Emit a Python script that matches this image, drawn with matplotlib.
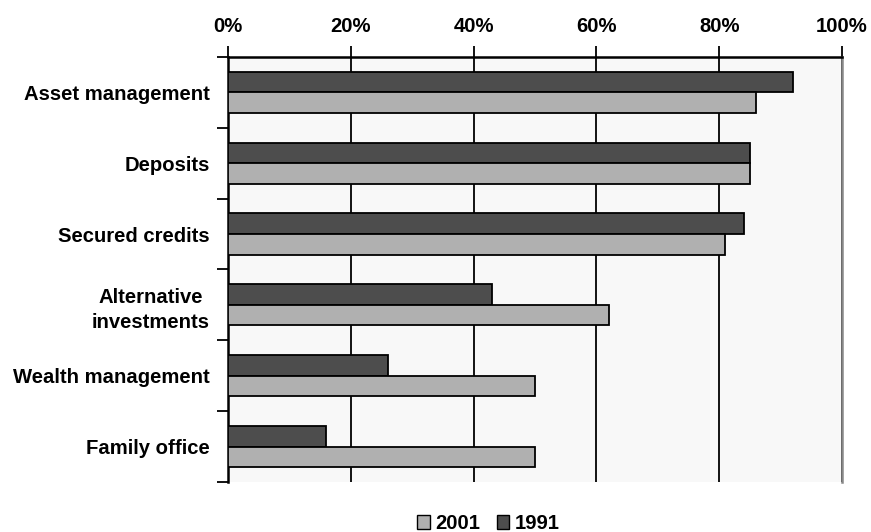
import matplotlib
matplotlib.use("Agg")
import matplotlib.pyplot as plt
import numpy as np
from matplotlib.patches import Patch

# data
categories = ["Asset management", "Deposits", "Secured credits",
              "Alternative\ninvestments", "Wealth management", "Family office"]
share_1991 = [92, 85, 84, 43, 26, 16]
share_2001 = [86, 85, 81, 62, 50, 50]
x_ticks = [0, 20, 40, 60, 80, 100]

plt.rcParams['font.family'] = ['Liberation Sans', 'DejaVu Sans']
plt.rcParams['font.weight'] = 'bold'
fs = 14.6

fig = plt.figure(figsize=(8.71, 5.32), dpi=100)
ax = fig.add_axes([0.2618, 0.094, 0.705, 0.799])

y = np.arange(len(categories))
h = 0.29
ax.barh(y - h / 2, share_1991, height=h, color='#4d4d4d', edgecolor='black', linewidth=1.3, zorder=3)
ax.barh(y + h / 2, share_2001, height=h, color='#b0b0b0', edgecolor='black', linewidth=1.3, zorder=3)

ax.set_xlim(0, 100)
ax.set_ylim(len(categories) - 0.5, -0.5)
ax.set_facecolor('#f8f8f8')

ax.xaxis.tick_top()
ax.set_xticks(x_ticks)
ax.set_xticklabels([f"{v}%" for v in x_ticks], fontsize=fs, fontweight='bold')
ax.tick_params(axis='x', direction='out', length=8, width=1.3, pad=7)
ax.grid(axis='x', color='black', linewidth=1.3, zorder=1)

ax.set_yticks(y)
ax.set_yticklabels(categories, fontsize=fs, fontweight='bold', ha='right')
ax.tick_params(axis='y', which='major', length=0, pad=13)
ax.set_yticks(np.arange(-0.5, len(categories), 1), minor=True)
ax.tick_params(axis='y', which='minor', direction='out', length=8, width=1.3)
for lbl in ax.get_yticklabels():
    lbl.set_multialignment('center')
    lbl.set_linespacing(1.4)

for side in ['top', 'left']:
    ax.spines[side].set_linewidth(1.8)
    ax.spines[side].set_color('black')
ax.spines['bottom'].set_visible(False)
ax.spines['right'].set_color('#888888')
ax.spines['right'].set_linewidth(1.8)

handles = [Patch(facecolor='#b0b0b0', edgecolor='black', label='2001'),
           Patch(facecolor='#4d4d4d', edgecolor='black', label='1991')]
fig.legend(handles=handles, loc='lower center', ncol=2, frameon=False,
           bbox_to_anchor=(0.561, -0.025), borderpad=0.1, handlelength=0.62,
           handleheight=0.62, handletextpad=0.28, columnspacing=0.8,
           prop={'weight': 'bold', 'size': fs})

fig.savefig("out.png", dpi=100)
